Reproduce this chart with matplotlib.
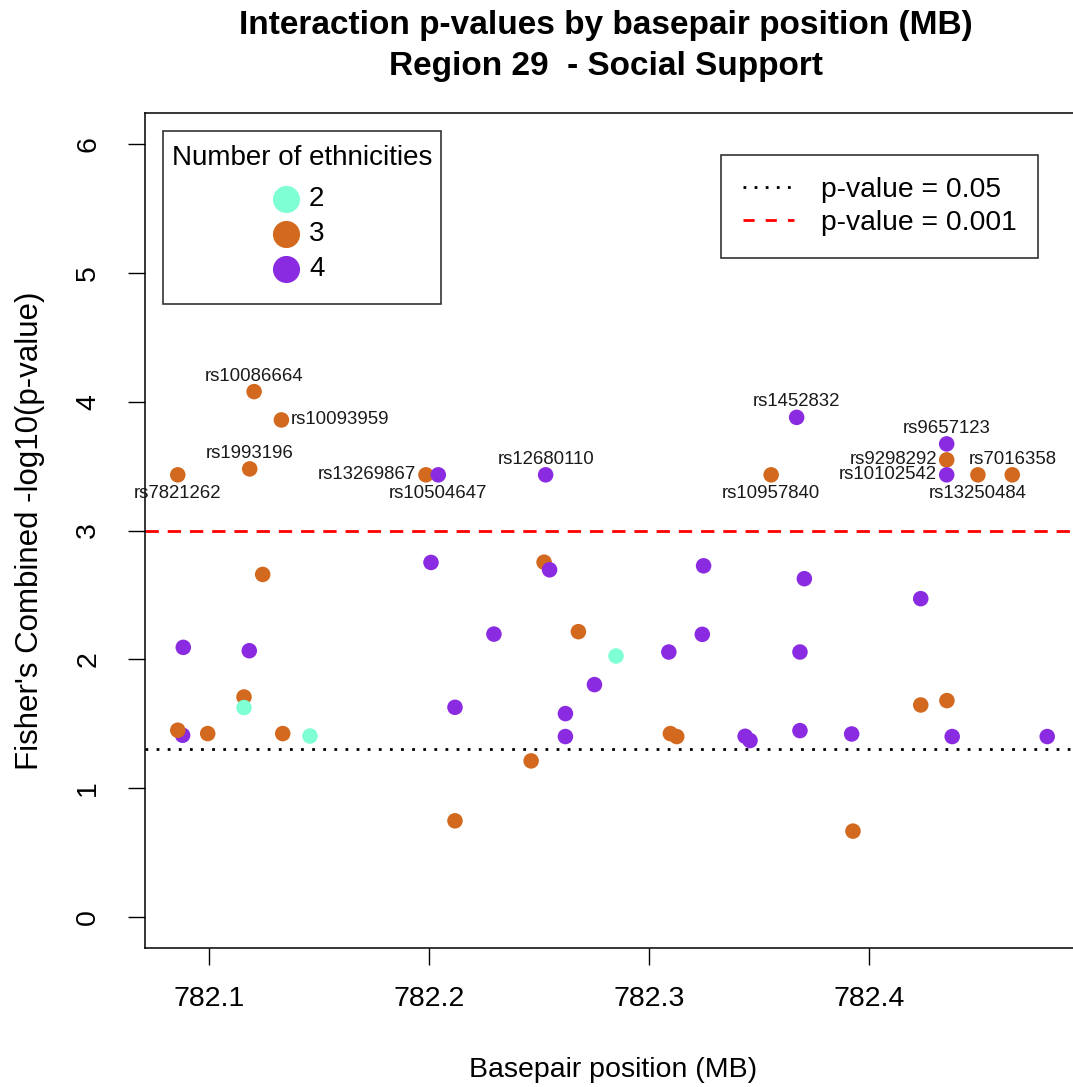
import numpy as np
import matplotlib
matplotlib.use("Agg")
import matplotlib.pyplot as plt
from matplotlib.lines import Line2D
from matplotlib.patches import Rectangle

plt.rcParams['font.family'] = ['Liberation Sans', 'DejaVu Sans']

# SNPs past the 0.001 threshold, labelled on the plot
top_snps = ["rs7821262", "rs10086664", "rs10093959", "rs1993196", "rs13269867",
            "rs10504647", "rs12680110", "rs10957840", "rs1452832", "rs9657123",
            "rs9298292", "rs10102542", "rs13250484", "rs7016358"]
top_pos = [782.0858, 782.1205, 782.1329, 782.1185, 782.1986,
           782.2042, 782.2530, 782.3555, 782.3671, 782.4353,
           782.4353, 782.4353, 782.4495, 782.4651]
top_logp = [3.432, 4.078, 3.858, 3.478, 3.432,
            3.432, 3.432, 3.432, 3.878, 3.672,
            3.548, 3.432, 3.432, 3.432]
top_n_eth = [3, 3, 3, 3, 3, 4, 4, 3, 4, 4, 3, 4, 3, 3]
top_side = ["below", "above", "right", "above", "left",
            "below", "above", "below", "above", "above",
            "left", "left", "below", "above"]

# all other SNPs in the region
pos_mb = [782.0880, 782.0858, 782.0883, 782.0994, 782.1159, 782.1159, 782.1183,
          782.1244, 782.1335, 782.1459, 782.2009, 782.2118, 782.2118, 782.2295,
          782.2464, 782.2523, 782.2548, 782.2620, 782.2620, 782.2679, 782.2752,
          782.2850, 782.3090, 782.3097, 782.3126, 782.3242, 782.3248, 782.3437,
          782.3459, 782.3686, 782.3686, 782.3706, 782.3921, 782.3927, 782.4235,
          782.4235, 782.4354, 782.4378, 782.4810]
logp = [1.411, 1.450, 2.093, 1.424, 1.708, 1.626, 2.067,
        2.659, 1.424, 1.405, 2.752, 1.628, 0.747, 2.196,
        1.212, 2.754, 2.695, 1.579, 1.401, 2.215, 1.804,
        2.026, 2.057, 1.424, 1.401, 2.194, 2.726, 1.403,
        1.370, 2.057, 1.447, 2.626, 1.421, 0.667, 2.471,
        1.646, 1.680, 1.401, 1.401]
n_eth = [4, 3, 4, 3, 3, 2, 4,
         3, 3, 2, 4, 4, 3, 4,
         3, 3, 4, 4, 4, 3, 4,
         2, 4, 3, 3, 4, 4, 4,
         4, 4, 4, 4, 4, 3, 4,
         3, 3, 4, 4]

thresholds = [0.05, 0.001]
eth_levels = [2, 3, 4]
eth_colors = {2: "aquamarine", 3: "chocolate", 4: "blueviolet"}

W, H = 1073, 1087
fig = plt.figure(figsize=(W / 100, H / 100), dpi=100)


def fx(px):
    return px / W


def fy(py):
    return 1 - py / H


# plot box in pixels: left 145, right 1082 (past the canvas edge), top 113, bottom 948
ax = fig.add_axes([fx(145), fy(948), 937 / W, 835 / H])

x_all = np.array(pos_mb + top_pos)
y_all = np.array(logp + top_logp)
c_all = [eth_colors[n] for n in n_eth + top_n_eth]
ax.scatter(x_all, y_all, c=c_all, s=125, linewidths=0, zorder=3)

ax.axhline(-np.log10(thresholds[0]), color="black", lw=2, ls=(0, (1, 3)), zorder=2)
ax.axhline(-np.log10(thresholds[1]), color="red", lw=2, ls=(0, (4.8, 3.2)), zorder=2)

offsets = {"below": ((0, -7.5), "center", "top"),
           "above": ((0, 5), "center", "bottom"),
           "left": ((-7, 0), "right", "center"),
           "right": ((7, 0), "left", "center")}
for name, x, y, side in zip(top_snps, top_pos, top_logp, top_side):
    off, ha, va = offsets[side]
    ax.annotate(name, (x, y), xytext=off, textcoords="offset points",
                ha=ha, va=va, fontsize=13.4, color="#1a1a1a", zorder=4)

ax.set_xlim(782.0709, 782.4968)
ax.set_ylim(-0.24, 6.24)
ax.set_xticks([782.1, 782.2, 782.3, 782.4])
ax.set_xticklabels(["782.1", "782.2", "782.3", "782.4"])
ax.set_yticks(range(0, 7))
ax.tick_params(axis="both", labelsize=20.5, length=12.5, width=1, direction="out")
ax.tick_params(axis="x", pad=15)
ax.tick_params(axis="y", pad=19, labelrotation=90)
for lbl in ax.get_yticklabels():
    lbl.set_va("center")
for sp in ax.spines.values():
    sp.set_linewidth(1.1)

ax.set_xlabel("Basepair position (MB)", fontsize=20.5)
ax.xaxis.set_label_coords(0.5, (948 - 1057) / 835)
ax.set_ylabel("Fisher's Combined -log10(p-value)", fontsize=22.5)
ax.yaxis.set_label_coords((45 - 145) / 937, 0.5)

fig.text(fx(606), fy(10),
         "Interaction p-values by basepair position (MB)\nRegion 29  - Social Support",
         ha="center", va="top", fontsize=24, fontweight="bold", linespacing=1.4)

# legend box for number of ethnicities, laid out in pixels
fig.patches.append(Rectangle((fx(163), fy(304)), 278 / W, 173 / H,
                             transform=fig.transFigure, facecolor="white",
                             edgecolor="#333333", lw=1.2, zorder=5))
fig.text(fx(302), fy(158), "Number of ethnicities", ha="center", va="center",
         fontsize=20, zorder=6)
for i, k in enumerate(eth_levels):
    row_y = fy(199 + 35 * i)
    fig.lines.append(Line2D([fx(286)], [row_y], transform=fig.transFigure,
                            marker="o", ls="none", color=eth_colors[k],
                            markersize=18.5, zorder=6))
    fig.text(fx(309), row_y, str(k), ha="left", va="center", fontsize=20, zorder=6)

# legend for threshold lines
line_handles = [Line2D([], [], color="black", lw=2, ls=(0, (1, 3))),
                Line2D([], [], color="red", lw=2, ls=(0, (4, 4)))]
leg2 = ax.legend(handles=line_handles,
                 labels=["p-value = %g" % t for t in thresholds],
                 loc="upper left", bbox_to_anchor=(fx(721), fy(155)),
                 bbox_transform=fig.transFigure, borderaxespad=0,
                 fontsize=20.3, frameon=True, fancybox=False, edgecolor="#333333",
                 framealpha=1, handlelength=1.8, handletextpad=0.95,
                 borderpad=0.78, labelspacing=0.25)
leg2.get_frame().set_linewidth(1.2)

fig.savefig("out.png", dpi=100)
